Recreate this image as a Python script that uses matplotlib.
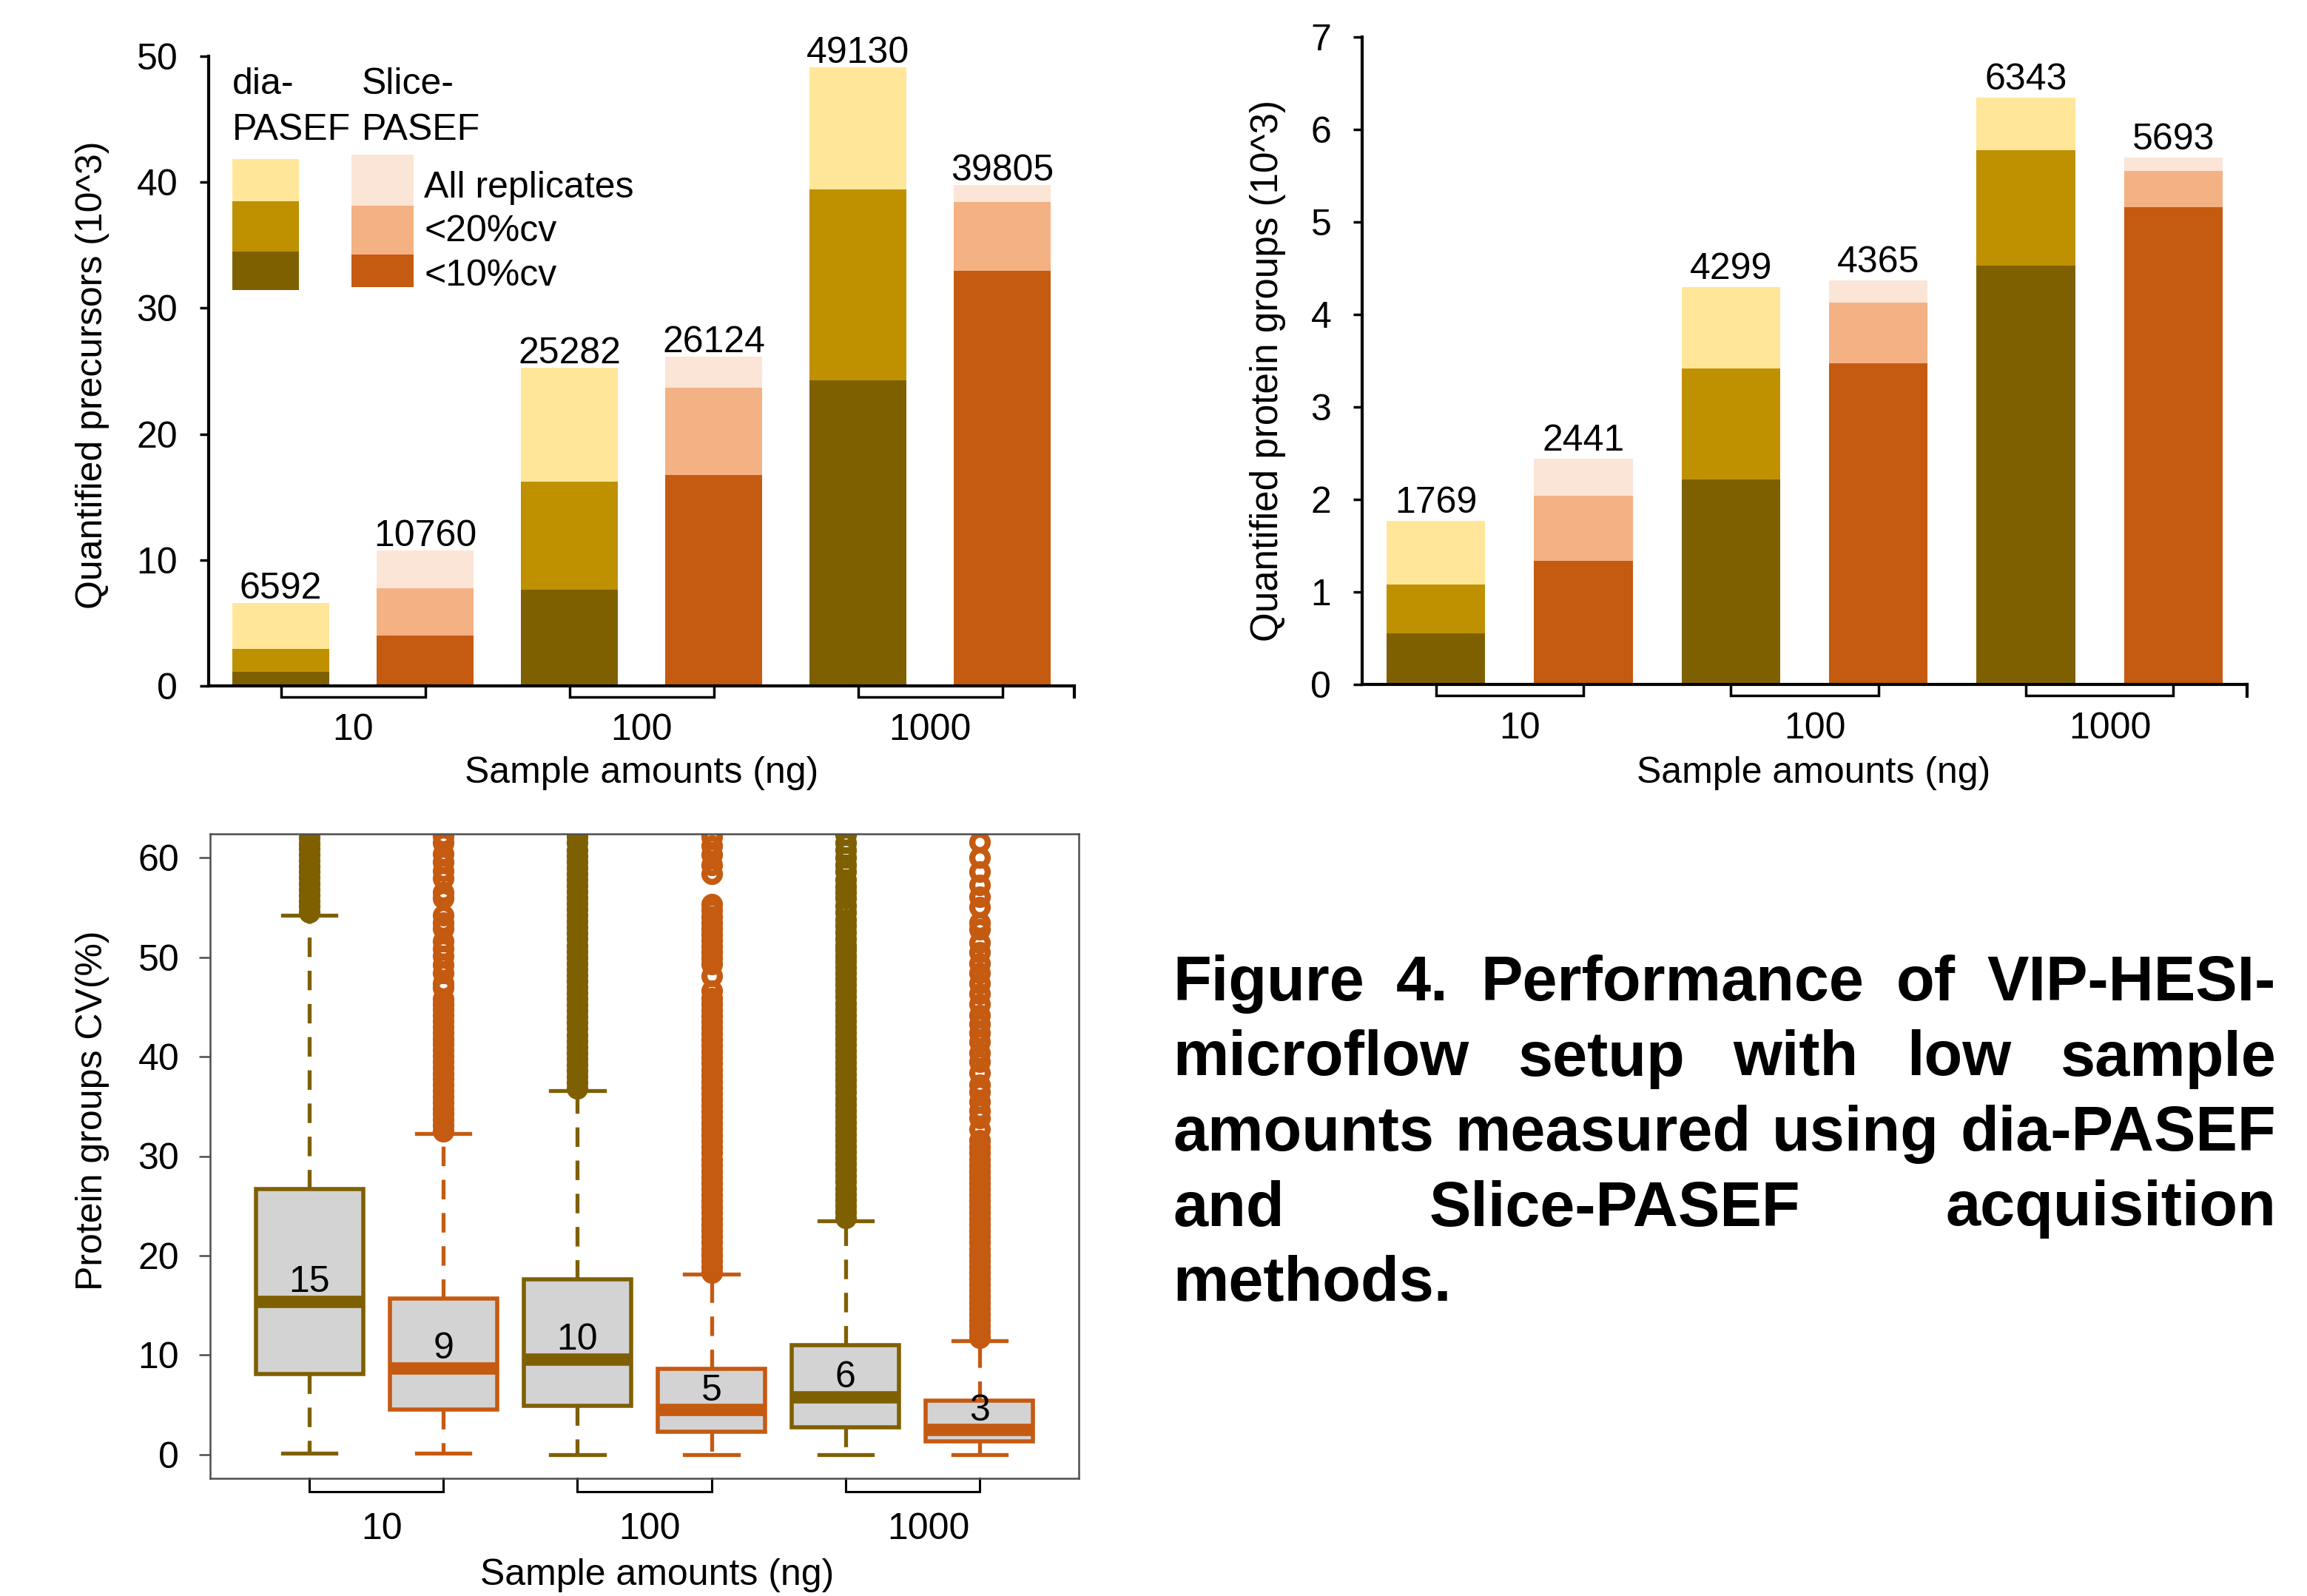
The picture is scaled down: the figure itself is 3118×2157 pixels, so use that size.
import matplotlib
matplotlib.use('Agg')
import matplotlib.pyplot as plt
from matplotlib.patches import Rectangle

W, H, DPI = 3118, 2157, 100
FS = 36

plt.rcParams['font.family'] = ['Liberation Sans', 'DejaVu Sans']
plt.rcParams['font.size'] = FS

# Excel style palette, order: <10%cv, <20%cv, all replicates
DIA_COLORS = ['#7F6000', '#BF9000', '#FFE699']
SLICE_COLORS = ['#C55A11', '#F4B183', '#FBE5D6']
BOX_FILL = '#D3D3D3'

amounts = ['10', '100', '1000']

# bar order: dia 10, Slice 10, dia 100, Slice 100, dia 1000, Slice 1000
prec_all = [6592, 10760, 25282, 26124, 49130, 39805]
prec_cv20 = [2.91, 7.77, 16.23, 23.68, 39.43, 38.42]   # 10^3
prec_cv10 = [1.09, 3.97, 7.65, 16.76, 24.29, 32.96]

prot_all = [1769, 2441, 4299, 4365, 6343, 5693]
prot_cv20 = [1.08, 2.04, 3.42, 4.13, 5.78, 5.55]
prot_cv10 = [0.55, 1.34, 2.22, 3.47, 4.53, 5.16]

# protein group CV (%) box statistics, same order
cv_q1 = [8.1, 4.5, 4.9, 2.3, 2.7, 1.3]
cv_med = [15.4, 8.7, 9.6, 4.5, 5.8, 2.5]
cv_q3 = [26.7, 15.7, 17.6, 8.6, 11.0, 5.4]
cv_lo = [0.15, 0.15, 0.0, 0.0, 0.0, 0.0]
cv_hi = [54.2, 32.3, 36.6, 18.1, 23.5, 11.45]
cv_med_labels = ['15', '9', '10', '5', '6', '3']

out_dia10 = [54.5, 55.1, 55.6, 56.2, 56.8, 57.4, 58.0, 58.6, 59.1, 59.7,
             60.3, 60.9, 61.4, 62.0, 62.6]
out_slice10 = [32.5, 33.1, 33.7, 34.3, 34.8, 35.4, 36.0, 36.6, 37.2, 37.8,
               38.3, 38.9, 39.5, 40.1, 40.7, 41.3, 41.8, 42.4, 43.0, 43.6,
               44.2, 44.8, 45.3, 45.8, 46.9, 47.4, 48.4, 49.2, 50.1, 50.9,
               51.6, 52.9, 53.5, 54.2, 55.9, 56.5, 57.9, 58.7, 59.6, 60.4,
               61.5, 62.2]
out_dia100 = [36.8, 37.4, 38.0, 38.6, 39.2, 39.8, 40.4, 41.0, 41.6, 42.2,
              42.8, 43.4, 44.0, 44.6, 45.2, 45.8, 46.4, 47.0, 47.6, 48.2,
              48.8, 49.4, 50.0, 50.6, 51.2, 51.8, 52.4, 53.0, 53.6, 54.2,
              54.8, 55.4, 56.0, 56.6, 57.2, 57.8, 58.4, 59.0, 59.6, 60.2,
              60.8, 61.5, 62.1, 62.7]
out_slice100 = [18.3, 18.9, 19.5, 20.1, 20.7, 21.3, 21.9, 22.5, 23.1, 23.7,
                24.3, 24.9, 25.5, 26.1, 26.7, 27.3, 27.9, 28.5, 29.1, 29.7,
                30.3, 30.9, 31.5, 32.1, 32.7, 33.3, 33.9, 34.5, 35.1, 35.7,
                36.3, 36.9, 37.5, 38.1, 38.7, 39.3, 39.9, 40.5, 41.1, 41.7,
                42.3, 42.9, 43.5, 44.1, 44.7, 45.3, 45.9, 46.6, 48.1, 49.3,
                49.9, 50.5, 51.1, 51.7, 52.3, 52.9, 53.5, 54.1, 54.7, 55.3,
                58.4, 59.3, 60.3, 61.2, 62.1]
out_dia1000 = [23.8, 24.4, 25.0, 25.6, 26.2, 26.8, 27.4, 28.0, 28.6, 29.2,
               29.8, 30.4, 31.0, 31.6, 32.2, 32.8, 33.4, 34.0, 34.6, 35.2,
               35.8, 36.4, 37.0, 37.6, 38.2, 38.8, 39.4, 40.0, 40.6, 41.2,
               41.8, 42.4, 43.0, 43.6, 44.2, 44.8, 45.4, 46.0, 46.6, 47.2,
               47.8, 48.4, 49.0, 49.6, 50.1, 50.7, 51.2, 51.8, 52.5, 53.2,
               53.8, 54.5, 55.2, 55.9, 56.5, 57.1, 57.8, 58.6, 59.3, 60.0,
               60.8, 61.5, 62.3]
out_slice1000 = [11.7, 12.3, 12.9, 13.5, 14.1, 14.7, 15.3, 15.9, 16.5, 17.1,
                 17.7, 18.3, 18.9, 19.5, 20.1, 20.7, 21.3, 21.9, 22.5, 23.1,
                 23.7, 24.3, 24.9, 25.5, 26.1, 26.7, 27.3, 27.9, 28.5, 29.1,
                 29.7, 30.3, 30.9, 31.6, 32.7, 33.8, 34.6, 35.5, 36.4, 37.2,
                 38.4, 39.5, 40.4, 41.5, 42.4, 43.3, 44.2, 45.3, 46.3, 47.4,
                 48.4, 49.4, 50.5, 51.5, 52.8, 53.5, 55.0, 56.1, 57.3, 58.6,
                 60.0, 61.6]
cv_out = [out_dia10, out_slice10, out_dia100, out_slice100, out_dia1000, out_slice1000]

caption = [
    'Figure 4. Performance of VIP-HESI-',
    'microflow setup with low sample',
    'amounts measured using dia-PASEF',
    'and Slice-PASEF acquisition',
    'methods.',
]


def rect(x0, y0, x1, y1):
    """ pixel box (from top left) -> figure fraction rect """
    return [x0 / W, 1 - y1 / H, (x1 - x0) / W, (y1 - y0) / H]


def fx(x):
    return x / W


def fy(y):
    return 1 - y / H


def brackets(ax, depth_px, lw):
    d = depth_px / (ax.get_position().height * H)
    first = 1 if ax.get_xlim()[0] > 0 else 0
    for g in range(3):
        x0 = 2 * g + first
        x1 = x0 + 1
        ax.plot([x0, x0, x1, x1], [0, -d, -d, 0], transform=ax.get_xaxis_transform(),
                color='black', lw=lw, clip_on=False, solid_joinstyle='miter')


def group_labels(ax, centers, dx_px, dy_px):
    for c, dx, lbl in zip(centers, dx_px, amounts):
        ax.annotate(lbl, (c, 0), xycoords=('data', 'axes fraction'),
                    xytext=(dx, dy_px), textcoords='offset pixels', ha='center', va='baseline')


def bar_panel(ax, totals, cv20, cv10, ymax, ystep, lab_off):
    x = list(range(len(totals)))
    tot = [t / 1000 for t in totals]
    cols = [DIA_COLORS if i % 2 == 0 else SLICE_COLORS for i in x]
    ax.bar(x, cv10, width=0.67, color=[c[0] for c in cols])
    ax.bar(x, [b - a for a, b in zip(cv10, cv20)], bottom=cv10, width=0.67,
           color=[c[1] for c in cols])
    ax.bar(x, [b - a for a, b in zip(cv20, tot)], bottom=cv20, width=0.67,
           color=[c[2] for c in cols])
    for i in x:
        ax.annotate(str(totals[i]), (i, tot[i]), xytext=(0, lab_off), textcoords='offset pixels',
                    ha='center', va='baseline')

    ax.set_xlim(-0.5, 5.5)
    ax.set_ylim(0, ymax)
    ax.set_yticks(range(0, ymax + 1, ystep))
    ax.set_xticks([])
    ax.spines[['top', 'right']].set_visible(False)
    for s in ('left', 'bottom'):
        ax.spines[s].set_linewidth(3)
    ax.tick_params(axis='y', length=9, width=2.5, pad=21)
    ax.plot([1, 1], [0, -0.018], transform=ax.transAxes, color='black', lw=3, clip_on=False)
    brackets(ax, 15, 2.5)


fig = plt.figure(figsize=(W / DPI, H / DPI), dpi=DPI)

# precursors
ax1 = fig.add_axes(rect(282, 76, 1452, 927))
bar_panel(ax1, prec_all, prec_cv20, prec_cv10, 50, 10, 6)
group_labels(ax1, [0.5, 2.5, 4.5], [0, 0, 0], -73)
ax1.annotate('Sample amounts (ng)', (0.5, 0), xycoords='axes fraction', xytext=(0, -131),
             textcoords='offset pixels', ha='center', va='baseline')
fig.text(fx(125), fy(507), 'Quantified precursors (10^3)', rotation=90, ha='center', va='center')

# legend drawn by hand: two colour columns
for (x0, x1, ys), cols in (((314, 404, [392, 340, 272, 215]), DIA_COLORS),
                           ((475, 559, [388, 344, 278, 209]), SLICE_COLORS)):
    for k in range(3):
        fig.add_artist(Rectangle((fx(x0), fy(ys[k])), (x1 - x0) / W, (ys[k] - ys[k + 1]) / H,
                                 transform=fig.transFigure, color=cols[k], lw=0))
fig.text(fx(314), fy(127), 'dia-', va='baseline')
fig.text(fx(314), fy(189), 'PASEF', va='baseline')
fig.text(fx(489), fy(127), 'Slice-', va='baseline')
fig.text(fx(489), fy(189), 'PASEF', va='baseline')
fig.text(fx(573), fy(267), 'All replicates', va='baseline')
fig.text(fx(573), fy(326), '<20%cv', va='baseline')
fig.text(fx(573), fy(386), '<10%cv', va='baseline')

# protein groups
ax2 = fig.add_axes(rect(1841, 50, 3037, 925))
bar_panel(ax2, prot_all, prot_cv20, prot_cv10, 7, 1, 11)
group_labels(ax2, [0.5, 2.5, 4.5], [14, 14, 14], -73)
ax2.annotate('Sample amounts (ng)', (0.51, 0), xycoords='axes fraction', xytext=(0, -133),
             textcoords='offset pixels', ha='center', va='baseline')
fig.text(fx(1714), fy(501), 'Quantified protein groups (10^3)', rotation=90, ha='center',
         va='center', fontsize=36.8)

# CV boxplot
ax3 = fig.add_axes(rect(284, 1127, 1458, 1998))
for i in range(6):
    col = DIA_COLORS[0] if i % 2 == 0 else SLICE_COLORS[0]
    stats = dict(med=cv_med[i], q1=cv_q1[i], q3=cv_q3[i], whislo=cv_lo[i],
                 whishi=cv_hi[i], fliers=cv_out[i])
    ax3.bxp([stats], positions=[i + 1], widths=0.8, capwidths=0.4, patch_artist=True,
            manage_ticks=False,
            boxprops=dict(facecolor=BOX_FILL, edgecolor=col, linewidth=4),
            whiskerprops=dict(color=col, linewidth=3.8, linestyle=(0, (5, 3.5))),
            capprops=dict(color=col, linewidth=3.8),
            medianprops=dict(color=col, linewidth=12, solid_capstyle='butt'),
            flierprops=dict(marker='o', markerfacecolor='none', markeredgecolor=col,
                            markersize=15, markeredgewidth=6))
    ax3.text(i + 1, cv_med[i] + 1.9, cv_med_labels[i], ha='center', va='center', zorder=5)

ax3.set_xlim(0.26, 6.74)
ax3.set_ylim(-2.4, 62.4)
ax3.set_yticks(range(0, 61, 10))
ax3.set_xticks([])
for s in ax3.spines.values():
    s.set_linewidth(1.8)
    s.set_color('#4d4d4d')
ax3.tick_params(axis='y', length=11, width=1.8, color='#4d4d4d', pad=19)
brackets(ax3, 18, 2.2)
group_labels(ax3, [1.5, 3.5, 5.5], [7, 7, 22], -82)
ax3.annotate('Sample amounts (ng)', (0.515, 0), xycoords='axes fraction', xytext=(0, -144),
             textcoords='offset pixels', ha='center', va='baseline')
fig.text(fx(125), fy(1501), 'Protein groups CV(%)', rotation=90, ha='center', va='center')

# justified caption
renderer = fig.canvas.get_renderer()
cap_x0, cap_x1 = 1585, 3076
for k, line in enumerate(caption):
    yb = 1352 + k * 101.5
    words = line.split()
    arts = [fig.text(0, fy(yb), w, va='baseline', fontsize=61, fontweight='bold') for w in words]
    widths = [a.get_window_extent(renderer).width for a in arts]
    if k < len(caption) - 1 and len(words) > 1:
        gap = (cap_x1 - cap_x0 - sum(widths)) / (len(words) - 1)
    else:
        gap = 24
    x = cap_x0
    for a, w in zip(arts, widths):
        a.set_x(fx(x))
        x += w + gap

fig.savefig('out.png', dpi=DPI)
